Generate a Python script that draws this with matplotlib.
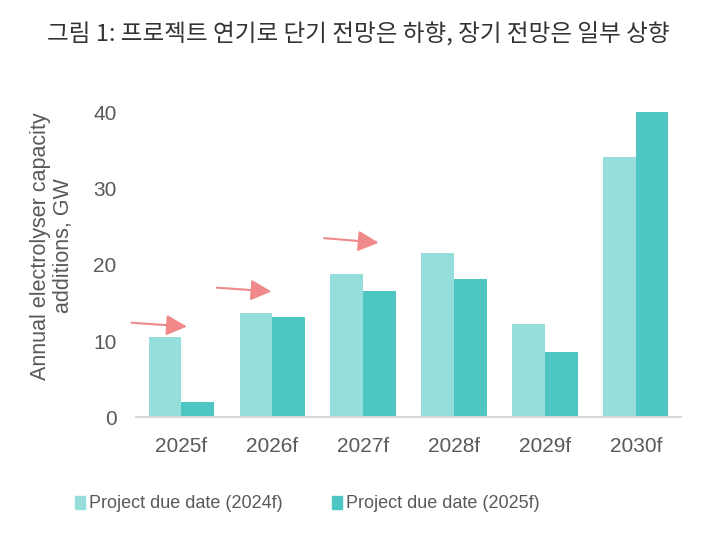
import matplotlib
matplotlib.use("Agg")
import matplotlib.pyplot as plt
import matplotlib.patches as mpatches
import numpy as np

years = ["2025f", "2026f", "2027f", "2028f", "2029f", "2030f"]
due_2024 = [10.5, 13.7, 18.8, 21.6, 12.3, 34.2]
due_2025 = [2.0, 13.2, 16.5, 18.1, 8.5, 40.1]
series_names = ["Project due date (2024f)", "Project due date (2025f)"]

# arrows: (tail x, tail y, head x, head y) in data units
arrows = [(-0.55, 12.4, 0.06, 11.9),
          (0.39, 17.0, 0.99, 16.5),
          (1.57, 23.5, 2.17, 22.9)]

light = "#96DEDB"
dark = "#4EC6C3"
grey = "#595959"

fig = plt.figure(figsize=(7.17, 5.41), dpi=100)
ax = fig.add_axes([0.1897, 0.2287, 0.7603, 0.6341])

x = np.arange(len(years))
w = 0.36
ax.bar(x - w / 2, due_2024, w, color=light, label=series_names[0])
ax.bar(x + w / 2, due_2025, w, color=dark, label=series_names[1])

for x0, y0, x1, y1 in arrows:
    ax.annotate("", xy=(x1, y1), xytext=(x0, y0),
                arrowprops=dict(arrowstyle="-|>,head_length=0.9,head_width=0.45",
                                color="#F08A8A", lw=1.5, mutation_scale=14,
                                shrinkA=0, shrinkB=0),
                annotation_clip=False)

ax.set_xlim(-0.5, len(years) - 0.5)
ax.set_ylim(0, 45)
ax.set_yticks([0, 10, 20, 30, 40])
ax.set_xticks(x)
ax.set_xticklabels(years)

for s in ["top", "right", "left"]:
    ax.spines[s].set_visible(False)
ax.spines["bottom"].set_color("#D9D9D9")
ax.spines["bottom"].set_linewidth(1.5)

ax.tick_params(axis="y", length=0, pad=14, labelsize=15, labelcolor=grey)
ax.tick_params(axis="x", length=0, pad=14, labelsize=15, labelcolor=grey)
for lab in ax.get_xticklabels() + ax.get_yticklabels():
    lab.set_fontfamily("Liberation Sans")

ax.set_ylabel("Annual electrolyser capacity\nadditions, GW", fontsize=15.5,
              color=grey, family="Liberation Sans", linespacing=1.1, labelpad=14)

fig.text(0.5, 1 - 34 / 541, "그림 1: 프로젝트 연기로 단기 전망은 하향, 장기 전망은 일부 상향",
         ha="center", va="center", fontsize=17, color="#333333",
         family=["Noto Sans CJK KR", "DejaVu Sans"])

handles = [mpatches.Patch(color=light, label=series_names[0]),
           mpatches.Patch(color=dark, label=series_names[1])]
leg = fig.legend(handles=handles, loc="center left",
                 bbox_to_anchor=(75 / 717, 1 - 504 / 541), ncol=2, frameon=False,
                 prop={"family": "Liberation Sans", "size": 13},
                 handlelength=0.55, handleheight=0.75, handletextpad=0.25,
                 columnspacing=2.7, borderpad=0, borderaxespad=0)
for t in leg.get_texts():
    t.set_color(grey)

fig.savefig("out.png", dpi=100)
